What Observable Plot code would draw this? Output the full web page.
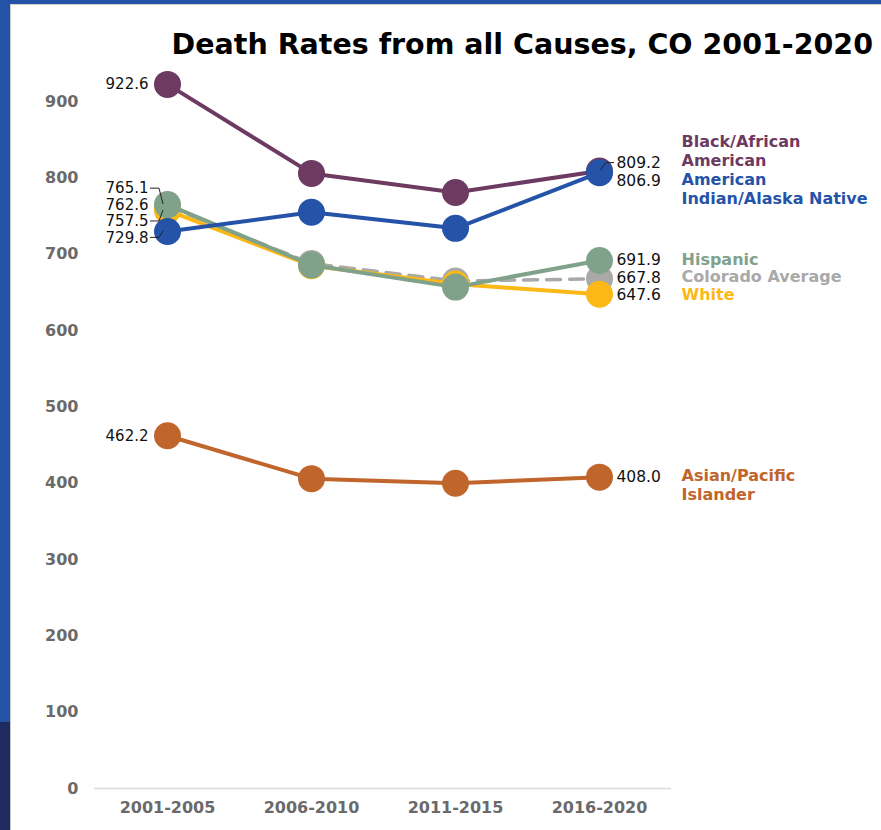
<!DOCTYPE html>
<html>
<head>
<meta charset="utf-8">
<script src="https://cdn.jsdelivr.net/npm/d3@7"></script>
<script src="https://cdn.jsdelivr.net/npm/@observablehq/plot@0.6"></script>
<style>
  html, body { margin: 0; padding: 0; background: #fff; }
  #wrap { position: relative; width: 881px; height: 830px; overflow: hidden; background: #fff; font-family: "DejaVu Sans", sans-serif; }
  #chart { position: absolute; left: 0; top: 0; }
  #title { position: absolute; right: 8px; top: 31px; font: bold 28.5px "DejaVu Sans", sans-serif; line-height: 1; color: #000; white-space: nowrap; }
  .bar { position: absolute; }
</style>
</head>
<body>
<div id="wrap">
  <div id="chart"></div>
  <div id="title">Death Rates from all Causes, CO 2001-2020</div>
  <div class="bar" style="left:0;top:0;width:881px;height:4px;background:#2452a4"></div>
  <div class="bar" style="left:4px;top:4px;width:877px;height:1px;background:#d0d0d0"></div>
  <div class="bar" style="left:0;top:0;width:10px;height:722px;background:#2452a4"></div>
  <div class="bar" style="left:0;top:722px;width:10px;height:108px;background:#1f2a60"></div>
  <div class="bar" style="left:10px;top:4px;width:1px;height:826px;background:#c8c8c8"></div>
</div>
<script>
// ---- data ----
const periods = ["2001-2005", "2006-2010", "2011-2015", "2016-2020"];
const yTicks = [0, 100, 200, 300, 400, 500, 600, 700, 800, 900];
const seriesNames = ["Asian/Pacific Islander", "Colorado Average", "White", "Hispanic", "Black/African American", "American Indian/Alaska Native"];
const seriesLabels = ["Asian/Pacific\nIslander", "Colorado Average", "White", "Hispanic", "Black/African\nAmerican", "American\nIndian/Alaska Native"];
const asian    = [462.2, 406, 400, 408.0];
const coAvg    = [762.6, 688, 665, 667.8];
const white    = [757.5, 685, 661, 647.6];
const hispanic = [765.1, 686, 657, 691.9];
const black    = [922.6, 806, 781, 809.2];
const aian     = [729.8, 755, 734, 806.9];
const seriesColors = ["#c0652b", "#a9a9a9", "#fbb817", "#80a28b", "#6d3a62", "#2453a8"];

// ---- build table ----
const valuesBySeries = [asian, coAvg, white, hispanic, black, aian];
const rows = [];
seriesNames.forEach((s, i) => {
  valuesBySeries[i].forEach((v, j) => rows.push({series: s, period: periods[j], value: v, idx: i}));
});
const colorOf = d => seriesColors[d.idx];

// dodge labels at an endpoint
function dodge(items, gap) {
  const sorted = items.slice().sort((a, b) => b.value - a.value);
  let clusters = sorted.map(d => ({ds: [d], y: d.value}));
  let merged = true;
  while (merged) {
    merged = false;
    for (let i = 0; i < clusters.length - 1; i++) {
      const a = clusters[i], b = clusters[i + 1];
      const aBottom = a.y - (a.ds.length - 1) * gap / 2;
      const bTop = b.y + (b.ds.length - 1) * gap / 2;
      if (aBottom - bTop < gap) {
        const ds = a.ds.concat(b.ds);
        clusters.splice(i, 2, {ds, y: d3.mean(ds, d => d.value)});
        merged = true;
        break;
      }
    }
  }
  clusters.forEach(c => {
    const top = c.y + (c.ds.length - 1) * gap / 2;
    c.ds.forEach((d, k) => d.ly = top - k * gap);
  });
  return items;
}
const leftLabels = dodge(rows.filter(d => d.period === periods[0]).map(d => ({...d})), 21.5);
const rightLabels = dodge(rows.filter(d => d.period === periods[3]).map(d => ({...d})), 23);
const nameLabels = rightLabels.map(d => ({...d, label: seriesLabels[d.idx]}));
const BLACK = "Black/African American";

// series marks (line + dots), drawn series by series for layering
const seriesMarks = [];
seriesNames.forEach((s, i) => {
  const data = rows.filter(d => d.series === s);
  const dashed = s === "Colorado Average";
  seriesMarks.push(Plot.line(data, {x: "period", y: "value", stroke: seriesColors[i], strokeWidth: dashed ? 3.5 : 4, strokeDasharray: dashed ? "14,9" : null}));
  seriesMarks.push(Plot.dot(data, {x: "period", y: "value", fill: seriesColors[i], r: 13.5}));
});

// leader lines for displaced labels
function leaders(index, scales) {
  const g = d3.create("svg:g").attr("fill", "none").attr("stroke", "#222").attr("stroke-width", 1);
  leftLabels.forEach(d => {
    const cx = scales.x(d.period), vy = scales.y(d.value), ly = scales.y(d.ly);
    if (Math.abs(vy - ly) > 3) g.append("path").attr("d", `M${cx - 17},${ly}L${cx - 8},${ly}L${cx - 4},${vy}`);
  });
  rightLabels.forEach(d => {
    const cx = scales.x(d.period), vy = scales.y(d.value), ly = scales.y(d.ly);
    if (Math.abs(vy - ly) > 5 && ly < vy) g.append("path").attr("d", `M${cx + 15},${ly}L${cx + 7},${ly}L${cx + 1},${vy}`);
  });
  return g.node();
}

const chart = Plot.plot({
  width: 881,
  height: 830,
  marginLeft: 94,
  marginRight: 210,
  marginTop: 63,
  marginBottom: 42,
  x: {type: "point", domain: periods, padding: 0.5, axis: null},
  y: {domain: [0, 950], axis: null},
  style: {fontFamily: "DejaVu Sans, sans-serif", background: "transparent", overflow: "visible"},
  marks: [
    Plot.ruleY([0], {stroke: "#dcdcdc", strokeWidth: 1.5}),
    Plot.axisY({ticks: yTicks, tickSize: 0, tickPadding: 16, fontSize: 16, fontWeight: "bold", fill: "#6a6a6a", label: null}),
    Plot.axisX({tickSize: 0, tickPadding: 13, fontSize: 16, fontWeight: "bold", fill: "#6a6a6a", label: null}),
    ...seriesMarks,
    leaders,
    Plot.text(leftLabels, {x: "period", y: "ly", text: d => d.value.toFixed(1), textAnchor: "end", dx: -19, fontSize: 15, fill: "#111"}),
    Plot.text(rightLabels, {x: "period", y: "ly", text: d => d.value.toFixed(1), textAnchor: "start", dx: 17, fontSize: 15.5, fill: "#111"}),
    Plot.text(nameLabels.filter(d => d.series === BLACK), {x: "period", y: "ly", text: "label", fill: colorOf, textAnchor: "start", lineAnchor: "bottom", lineHeight: 1.17, dx: 82, dy: 3, fontSize: 16, fontWeight: "bold"}),
    Plot.text(nameLabels.filter(d => d.series !== BLACK), {x: "period", y: "ly", text: "label", fill: colorOf, textAnchor: "start", lineAnchor: "top", lineHeight: 1.17, dx: 82, dy: -9, fontSize: 16, fontWeight: "bold"})
  ]
});
document.getElementById("chart").appendChild(chart);
</script>
</body>
</html>
